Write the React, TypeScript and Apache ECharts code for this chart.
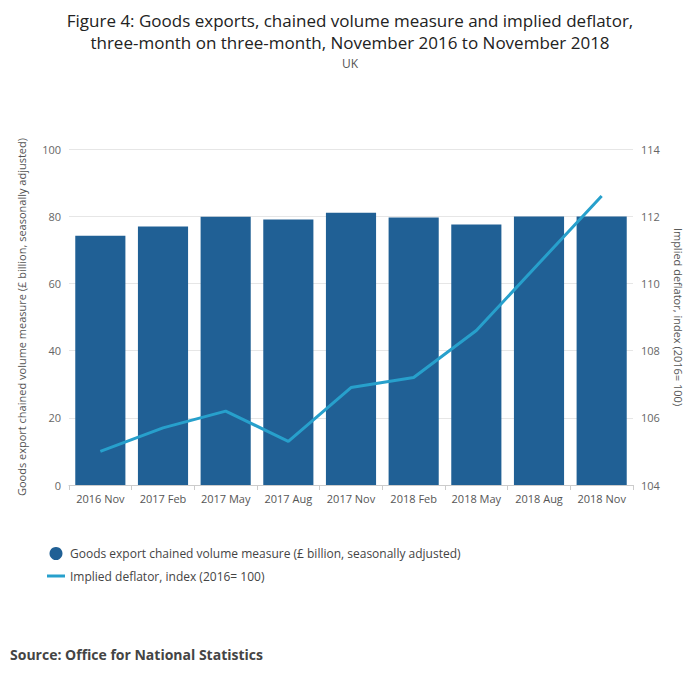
import React, { useEffect, useRef } from "react";
import * as echarts from "echarts";

const categories = ["2016 Nov","2017 Feb","2017 May","2017 Aug","2017 Nov","2018 Feb","2018 May","2018 Aug","2018 Nov"];
const volume = [74.2, 76.9, 79.8, 79.0, 81.0, 79.6, 77.5, 79.9, 79.9];
const deflator = [105.0, 105.7, 106.2, 105.3, 106.9, 107.2, 108.6, 110.6, 112.6];
const volName = "Goods export chained volume measure (£ billion, seasonally adjusted)";
const defName = "Implied deflator, index (2016= 100)";

export default function App() {
  const ref = useRef<HTMLDivElement>(null);
  useEffect(() => {
    const chart = echarts.init(ref.current!, null, { renderer: "svg" });
    const font = "'Open Sans', sans-serif";
    chart.setOption({
      animation: false,
      textStyle: { fontFamily: font },
      title: {
        text: "Figure 4: Goods exports, chained volume measure and implied deflator,\nthree-month on three-month, November 2016 to November 2018",
        subtext: "UK",
        left: "center", top: -4, itemGap: 4,
        textStyle: { fontSize: 17, fontWeight: "normal", color: "#222", lineHeight: 22, fontFamily: font },
        subtextStyle: { fontSize: 12, color: "#555", fontFamily: font },
      },
      grid: { left: 60, right: 59, top: 141, bottom: 189 },
      legend: {
        orient: "vertical", left: 34, top: 534, itemGap: 10,
        textStyle: { fontSize: 12, color: "#444", fontFamily: font },
        data: [
          { name: volName, icon: "circle", itemStyle: { color: "#206095" } },
          { name: defName, icon: "path://M0,5H18V8H0Z" },
        ],
        itemWidth: 18, itemHeight: 13,
      },
      xAxis: {
        type: "category", data: categories,
        axisTick: { show: true, alignWithLabel: false, lineStyle: { color: "#ccc" } },
        axisLine: { lineStyle: { color: "#ccc" } },
        axisLabel: { color: "#555", fontSize: 11, interval: 0 },
      },
      yAxis: [
        {
          type: "value", min: 0, max: 100, interval: 20,
          name: volName, nameLocation: "middle", nameGap: 42,
          nameTextStyle: { color: "#555", fontSize: 11 },
          axisLabel: { color: "#666", fontSize: 11 },
          splitLine: { lineStyle: { color: "#e6e6e6" } },
        },
        {
          type: "value", min: 104, max: 114, interval: 2,
          name: defName, nameLocation: "middle", nameGap: 40, nameRotate: -90,
          nameTextStyle: { color: "#555", fontSize: 11 },
          axisLabel: { color: "#666", fontSize: 11 },
          splitLine: { show: false },
        },
      ],
      series: [
        { name: volName, type: "bar", data: volume, barCategoryGap: "20%", itemStyle: { color: "#206095" } },
        { name: defName, type: "line", yAxisIndex: 1, data: deflator, symbol: "none",
          lineStyle: { color: "#27a0cc", width: 3 }, itemStyle: { color: "#27a0cc" } },
      ],
      graphic: [
        { type: "text", left: 2, top: 639, style: { text: "Source: Office for National Statistics", fontSize: 14, fontWeight: "bold", fill: "#444", fontFamily: font } },
      ],
    });
    return () => chart.dispose();
  }, []);
  return <div ref={ref} style={{ width: 684, height: 666 }} />;
}
